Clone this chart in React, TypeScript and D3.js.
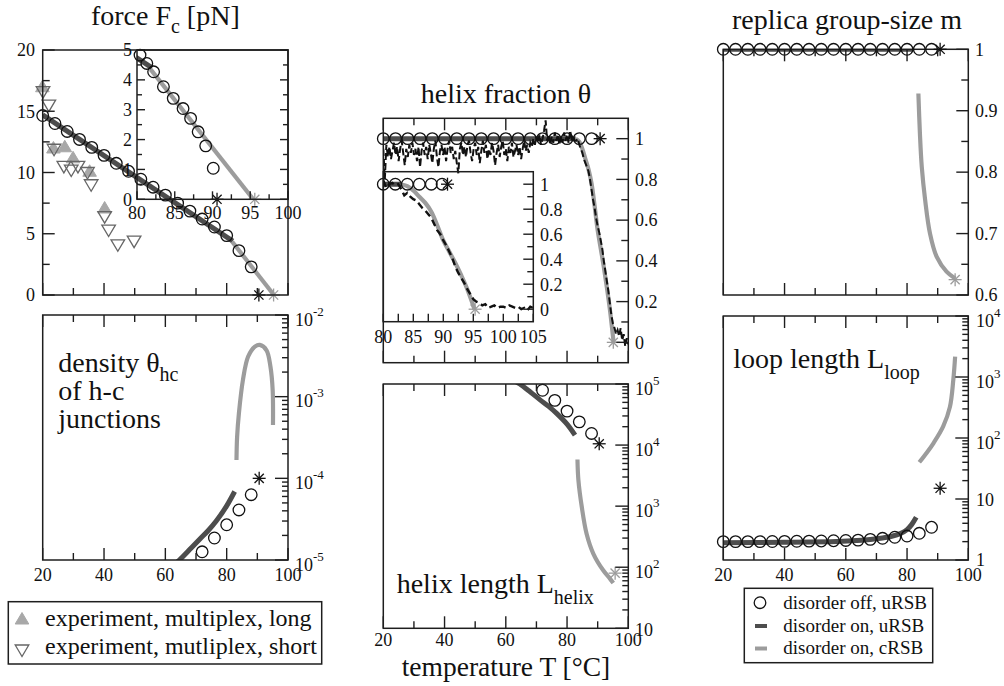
import React from "react";
import * as d3 from "d3";

// ---------------- data ----------------
// disorder off, uRSB (circles)
const offT = [20, 24, 28, 32, 36, 40, 44, 48, 52, 56, 60, 64, 68, 72, 76, 80, 84, 88];
const offForce = [14.65, 14.0, 13.35, 12.7, 12.05, 11.4, 10.75, 10.1, 9.45, 8.8, 8.15, 7.5, 6.85, 6.2, 5.55, 4.85, 3.62, 2.3];
const offForceInsetT = [80.4, 81.3, 82.2, 83.5, 84.8, 86.1, 87.1, 88.1, 89.1, 90.1];
const offForceInset = [4.83, 4.55, 4.27, 3.77, 3.38, 3.04, 2.71, 2.26, 1.79, 1.04];
const offTheta = [1, 1, 1, 1, 1, 1, 1, 1, 1, 1, 1, 1, 1, 1, 1, 1, 1, 1];
const offThetaInsetT = [80, 82, 84, 86, 88, 89.8];
const offThetaInset = [1, 1, 1, 1, 1, 1];
const offM = [1, 1, 1, 1, 1, 1, 1, 1, 1, 1, 1, 1, 1, 1, 1, 1, 1, 1];
const offLoop = [2.0, 2.0, 2.0, 2.0, 2.01, 2.02, 2.03, 2.04, 2.05, 2.07, 2.09, 2.12, 2.18, 2.27, 2.36, 2.47, 2.74, 3.44];
const offJunctT = [72, 76, 80, 84, 88];
const offDensity = [1.26e-5, 1.86e-5, 2.7e-5, 4.1e-5, 6.3e-5];
const offHelix = [7.9e4, 5.4e4, 3.6e4, 2.4e4, 1.55e4];

// disorder on, uRSB (dark line)
const onForceT = [20, 82];
const onForce = [14.7, 4.4];
const onThetaT = [20, 82.8];
const onTheta = [1, 1];
const onMT = [20, 82];
const onM = [1, 1];
const onJunctT = [63.5, 64.6, 68, 71.2, 74, 76.6, 80, 82.6];
const onDensity = [0.92e-5, 1e-5, 1.35e-5, 1.8e-5, 2.3e-5, 3.0e-5, 4.6e-5, 6.9e-5];
const onHelix = [1.08e5, 1e5, 7.4e4, 5.5e4, 4.3e4, 3.3e4, 2.2e4, 1.45e4];
const onLoopT = [20, 40, 55, 62, 68, 72, 75, 78, 80, 81.5, 83];
const onLoop = [1.92, 1.95, 2.0, 2.06, 2.17, 2.3, 2.45, 2.75, 3.15, 3.8, 5.0];

// disorder on, cRSB (gray line)
const cForceT = [81.8, 95.4];
const cForce = [4.35, 0];
const cThetaT = [82.8, 84, 85, 86, 87, 88, 89, 90, 91, 92, 93, 94, 95.2];
const cTheta = [1.0, 0.985, 0.95, 0.9, 0.85, 0.78, 0.67, 0.55, 0.46, 0.37, 0.27, 0.16, 0.0];
const cDensityT = [83.2, 83.4, 84.0, 85.3, 87.0, 89.2, 90.8, 93.0, 94.3, 95.0, 95.1];
const cDensity = [1.68e-4, 3.2e-4, 6.3e-4, 1.6e-3, 3.1e-3, 4.1e-3, 4.3e-3, 3.7e-3, 2.3e-3, 1.2e-3, 4.5e-4];
const cHelixT = [83.4, 83.7, 84.8, 86.4, 88.6, 91.8, 94.0, 95.1];
const cHelix = [5.8e3, 2.7e3, 9.8e2, 3.5e2, 1.66e2, 89, 65, 55];
const cMT = [83.7, 84.2, 84.8, 85.9, 87.5, 89.7, 92.9, 95.7];
const cM = [0.928, 0.863, 0.809, 0.755, 0.7, 0.662, 0.638, 0.627];
const cLoopT = [84.0, 86.5, 88.6, 91.8, 94.0, 95.1, 95.7];
const cLoop = [40, 58, 82, 155, 324, 890, 2150];

// experiments (force)
const expLongT = [19.9, 23.5, 27.2, 29.9, 35.3, 40.2];
const expLongF = [17.0, 12.0, 12.1, 11.2, 10.1, 7.1];
const expShortT = [20.1, 22.0, 23.7, 26.9, 29.3, 31.5, 34.6, 35.8, 40.2, 41.5, 44.5, 49.8];
const expShortF = [16.6, 15.5, 11.9, 10.5, 10.2, 10.5, 10.0, 9.0, 6.4, 5.3, 4.1, 4.4];

// simulation helix fraction (dashed black), sampled every 0.5 degree
const simStartT = 20;
const simStepT = 0.5;
const simTheta = [
  0.95, 0.80, 0.97, 0.91, 0.96, 0.90, 0.94, 0.98, 0.92, 0.96, 0.89, 0.95, 0.99, 0.93, 0.87, 0.95, 0.91, 0.97, 0.93, 0.98,
  0.92, 0.95, 0.89, 0.96, 0.86, 0.94, 0.98, 0.92, 0.96, 0.90, 0.97, 0.93, 0.88, 0.95, 0.99, 0.91, 0.86, 0.94, 0.97, 0.92,
  0.96, 0.89, 0.95, 0.99, 0.93, 0.96, 0.90, 0.94, 0.88, 0.83, 0.95, 0.98, 0.92, 0.96, 0.91, 0.97, 0.99, 0.93, 0.89, 0.95,
  0.98, 0.92, 0.96, 0.88, 0.94, 0.99, 0.93, 0.97, 0.90, 0.95, 0.92, 0.98, 0.94, 0.87, 0.93, 0.97, 0.91, 0.96, 0.99, 0.92,
  0.95, 0.89, 0.96, 0.93, 0.98, 0.91, 0.94, 0.97, 0.92, 0.96, 0.90, 0.95, 0.99, 0.94, 0.97, 0.93, 0.98, 0.96, 1.00, 0.97,
  1.01, 0.98, 1.02, 0.97, 1.00, 1.04, 1.09, 0.99, 1.02, 0.97, 1.01, 0.98, 1.03, 0.99, 1.02, 0.97, 1.01, 0.98, 1.03, 0.99,
  1.02, 0.98, 1.04, 1.00, 1.01, 0.99,
  0.99, 1.0, 0.97, 0.95, 0.93, 0.9, 0.88, 0.86, 0.84, 0.8, 0.75, 0.7, 0.66, 0.61, 0.57, 0.54, 0.5, 0.46, 0.4, 0.35,
  0.3, 0.25, 0.19, 0.13, 0.09, 0.07, 0.04, 0.06, 0.03, 0.07, 0.01, 0.04, -0.02, 0.02, -0.01,
];
const simInsetStartT = 80;
const simInsetStepT = 0.5;
const simThetaInset = [
  1.03, 0.97, 1.0, 1.01, 0.99, 1.0, 0.96, 0.91, 0.93, 0.9, 0.88, 0.87, 0.84, 0.81, 0.79, 0.76, 0.73, 0.68, 0.63, 0.6,
  0.55, 0.51, 0.46, 0.41, 0.34, 0.29, 0.25, 0.21, 0.16, 0.12, 0.08, 0.06, 0.05, 0.03, 0.04, 0.01, 0.02, 0.03, 0.01, 0.02,
  0.02, 0.01, 0.03, 0.02, 0.01, 0.02, 0.0, 0.01, -0.01, 0.02, 0.01,
];

// transition points (stars): [T, value]
const starForceOff = [90.5, 0];
const starForceOn = [95.3, 0];
const starForceInsetOff = [90.6, 0];
const starForceInsetOn = [95.6, 0];
const starDensityOff = [90.6, 1e-4];
const starThetaOff = [90.8, 1];
const starThetaOn = [95.1, 0];
const starThetaInsetOff = [90.7, 1];
const starThetaInsetOn = [95.3, 0];
const starHelixOff = [90.5, 1.05e4];
const starHelixOn = [95.7, 80];
const starMOff = [90.8, 1];
const starMOn = [95.7, 0.625];
const starLoopOff = [90.8, 15];

// ticks
const tMajor = [20, 40, 60, 80, 100];
const tMinor = [30, 50, 70, 90];
const forceMajor = [0, 5, 10, 15, 20];
const forceMinor = [2.5, 7.5, 12.5, 17.5];
const forceInsetMajor = [0, 1, 2, 3, 4, 5];
const forceInsetMinor = [0.5, 1.5, 2.5, 3.5, 4.5];
const forceInsetXMajor = [80, 85, 90, 95, 100];
const forceInsetXMinor = [82.5, 87.5, 92.5, 97.5];
const thetaMajor = [0, 0.2, 0.4, 0.6, 0.8, 1];
const thetaMinor = [0.1, 0.3, 0.5, 0.7, 0.9];
const thetaInsetXMajor = [80, 85, 90, 95, 100, 105];
const thetaInsetXMinor = [82.5, 87.5, 92.5, 97.5, 102.5];
const mMajor = [0.6, 0.7, 0.8, 0.9, 1];
const mMinor = [0.65, 0.75, 0.85, 0.95];
const densityDecades = [1e-5, 1e-4, 1e-3, 1e-2];
const helixDecades = [10, 1e2, 1e3, 1e4, 1e5];
const loopDecades = [1, 10, 1e2, 1e3, 1e4];

// ---------------- layout ----------------
const FONT = "'Liberation Serif', 'Times New Roman', 'DejaVu Serif', serif";
const FRAME = "#1e1e1e";
const DARK = "#4d4d4d";
const GRAY = "#9c9c9c";
const MAJ = 12;
const MIN = 7;

type Box = { x: number; y: number; w: number; h: number };
const B_FORCE: Box = { x: 42.7, y: 50, w: 245.3, h: 245 };
const B_FINSET: Box = { x: 137, y: 50, w: 151, h: 149.3 };
const B_DENS: Box = { x: 42.7, y: 315, w: 245.3, h: 245 };
const B_THETA: Box = { x: 383.3, y: 118.3, w: 245, h: 244.4 };
const B_TINSET: Box = { x: 383.3, y: 171.7, w: 150, h: 150 };
const B_HELIX: Box = { x: 383.3, y: 384, w: 245, h: 244.3 };
const B_M: Box = { x: 723.3, y: 49.3, w: 245, h: 245.7 };
const B_LOOP: Box = { x: 723.3, y: 316, w: 245, h: 244 };

type Sc = (v: number) => number;
const linX = (b: Box, d: [number, number]) => d3.scaleLinear(d, [b.x, b.x + b.w]);
const linY = (b: Box, d: [number, number]) => d3.scaleLinear(d, [b.y + b.h, b.y]);
const logY = (b: Box, d: [number, number]) => d3.scaleLog(d, [b.y + b.h, b.y]);

const zip = (xs: number[], ys: number[]) => xs.map((x, i) => [x, ys[i]] as [number, number]);

function pathD(sx: Sc, sy: Sc, pts: [number, number][], curve: d3.CurveFactory = d3.curveLinear) {
  return (
    d3
      .line<[number, number]>()
      .x((d) => sx(d[0]))
      .y((d) => sy(d[1]))
      .curve(curve)(pts) || ""
  );
}

function frame(b: Box, key: string) {
  return <rect key={key} x={b.x} y={b.y} width={b.w} height={b.h} fill="none" stroke={FRAME} strokeWidth={1.5} />;
}

function xTicks(sx: Sc, b: Box, majors: number[], minors: number[], sides: string[], key: string, maj = MAJ, min = MIN) {
  const out: React.ReactElement[] = [];
  const groups: [number[], number][] = [
    [majors, maj],
    [minors, min],
  ];
  groups.forEach(([vals, len], gi) =>
    vals.forEach((v, i) =>
      sides.forEach((s) => {
        const x = sx(v);
        const y1 = s === "bottom" ? b.y + b.h : b.y;
        const y2 = s === "bottom" ? b.y + b.h - len : b.y + len;
        out.push(<line key={`${key}-${gi}-${i}-${s}`} x1={x} x2={x} y1={y1} y2={y2} stroke={FRAME} strokeWidth={1.4} />);
      })
    )
  );
  return out;
}

function yTicks(sy: Sc, b: Box, majors: number[], minors: number[], sides: string[], key: string, maj = MAJ, min = MIN) {
  const out: React.ReactElement[] = [];
  const groups: [number[], number][] = [
    [majors, maj],
    [minors, min],
  ];
  groups.forEach(([vals, len], gi) =>
    vals.forEach((v, i) =>
      sides.forEach((s) => {
        const y = sy(v);
        const x1 = s === "right" ? b.x + b.w : b.x;
        const x2 = s === "right" ? b.x + b.w - len : b.x + len;
        out.push(<line key={`${key}-${gi}-${i}-${s}`} x1={x1} x2={x2} y1={y} y2={y} stroke={FRAME} strokeWidth={1.4} />);
      })
    )
  );
  return out;
}

function logMinors(decades: number[]) {
  const out: number[] = [];
  for (let i = 0; i < decades.length - 1; i++) for (let k = 2; k <= 9; k++) out.push(decades[i] * k);
  return out;
}

function logLabels(sy: Sc, x: number, decades: number[], key: string) {
  return decades.map((v, i) => {
    const e = Math.round(Math.log10(v));
    const y = sy(v);
    if (e === 0)
      return (
        <text key={`${key}-${i}`} x={x} y={y} dy="0.35em" fontSize={18}>
          1
        </text>
      );
    if (e === 1)
      return (
        <text key={`${key}-${i}`} x={x} y={y + 1} dy="0.35em" fontSize={18}>
          10
        </text>
      );
    return (
      <text key={`${key}-${i}`} x={x} y={y} dy="0.6em" fontSize={18}>
        10
        <tspan fontSize={13} dy={-10}>
          {e < 0 ? `-${-e}` : String(e)}
        </tspan>
      </text>
    );
  });
}

function numLabels(sy: Sc, x: number, vals: number[], key: string, anchor: "start" | "end", size = 18) {
  return vals.map((v, i) => (
    <text key={`${key}-${i}`} x={x} y={sy(v)} dy="0.35em" fontSize={size} textAnchor={anchor}>
      {String(v)}
    </text>
  ));
}

function xLabels(sx: Sc, y: number, vals: number[], key: string, size = 18) {
  return vals.map((v, i) => (
    <text key={`${key}-${i}`} x={sx(v)} y={y} fontSize={size} textAnchor="middle">
      {String(v)}
    </text>
  ));
}

function circles(sx: Sc, sy: Sc, pts: [number, number][], key: string) {
  return pts.map((p, i) => (
    <circle key={`${key}-${i}`} cx={sx(p[0])} cy={sy(p[1])} r={5.8} fill="none" stroke="#111" strokeWidth={1.3} />
  ));
}

function star(sx: Sc, sy: Sc, p: number[], color: string, dot: boolean, key: string) {
  const cx = sx(p[0]);
  const cy = sy(p[1]);
  const r = 6.5;
  const angles = [0, 45, 90, 135];
  return (
    <g key={key}>
      {angles.map((a) => {
        const dx = r * Math.cos((a * Math.PI) / 180);
        const dy = r * Math.sin((a * Math.PI) / 180);
        return <line key={a} x1={cx - dx} x2={cx + dx} y1={cy - dy} y2={cy + dy} stroke={color} strokeWidth={1.3} />;
      })}
      {dot && <circle cx={cx} cy={cy} r={1.6} fill={color} />}
    </g>
  );
}

function triUp(x: number, y: number, key: string) {
  return <polygon key={key} points={`${x},${y - 6.5} ${x + 6.8},${y + 5} ${x - 6.8},${y + 5}`} fill="#a8a8a8" stroke="#a8a8a8" strokeWidth={1} />;
}
function triDown(x: number, y: number, key: string) {
  return <polygon key={key} points={`${x - 6.8},${y - 5} ${x + 6.8},${y - 5} ${x},${y + 6.5}`} fill="none" stroke="#666" strokeWidth={1.3} />;
}

function clip(id: string, b: Box) {
  return (
    <clipPath id={id} key={id}>
      <rect x={b.x} y={b.y} width={b.w} height={b.h} />
    </clipPath>
  );
}

export default function App() {
  // scales
  const sxF = linX(B_FORCE, [20, 100]);
  const syF = linY(B_FORCE, [0, 20]);
  const sxFI = linX(B_FINSET, [80, 100]);
  const syFI = linY(B_FINSET, [0, 5]);
  const sxD = linX(B_DENS, [20, 100]);
  const syD = logY(B_DENS, [1e-5, 1e-2]);
  const sxT = linX(B_THETA, [20, 100]);
  const syT = linY(B_THETA, [-0.1, 1.1]);
  const sxTI = linX(B_TINSET, [80, 105]);
  const syTI = linY(B_TINSET, [-0.1, 1.1]);
  const sxH = linX(B_HELIX, [20, 100]);
  const syH = logY(B_HELIX, [10, 1e5]);
  const sxM = linX(B_M, [20, 100]);
  const syM = linY(B_M, [0.6, 1]);
  const sxL = linX(B_LOOP, [20, 100]);
  const syL = logY(B_LOOP, [1, 1e4]);

  const simPts = zip(simTheta.map((_, i) => simStartT + i * simStepT), simTheta);
  const simInsetPts = zip(simThetaInset.map((_, i) => simInsetStartT + i * simInsetStepT), simThetaInset);
  const cr = d3.curveCatmullRom.alpha(0.5);

  const darkStyle = { fill: "none", stroke: DARK, strokeWidth: 5 };
  const grayStyle = { fill: "none", stroke: GRAY, strokeWidth: 4.2 };

  return (
    <svg
      width={1004}
      height={686}
      style={{ position: "absolute", left: 0, top: 0, background: "#fff" }}
      fontFamily={FONT}
      fill="#111"
    >
      <defs>
        {clip("c-force", B_FORCE)}
        {clip("c-finset", B_FINSET)}
        {clip("c-dens", B_DENS)}
        {clip("c-theta", B_THETA)}
        {clip("c-tinset", B_TINSET)}
        {clip("c-helix", B_HELIX)}
        {clip("c-m", B_M)}
        {clip("c-loop", B_LOOP)}
      </defs>
      <rect x={0} y={0} width={1004} height={686} fill="#fff" />

      {/* ---------- force panel ---------- */}
      <text x={165.3} y={25} textAnchor="middle" fontSize={28}>
        force F<tspan fontSize={20} dy={8}>c</tspan>
        <tspan dy={-8}> [pN]</tspan>
      </text>
      <g clipPath="url(#c-force)">
        <path d={pathD(sxF, syF, zip(onForceT, onForce))} style={darkStyle} />
        <path d={pathD(sxF, syF, zip(cForceT, cForce))} style={grayStyle} />
      </g>
      {zip(expLongT, expLongF).map((p, i) => triUp(sxF(p[0]), syF(p[1]), `el${i}`))}
      {zip(expShortT, expShortF).map((p, i) => triDown(sxF(p[0]), syF(p[1]), `es${i}`))}
      {circles(sxF, syF, zip(offT, offForce), "fc")}
      {star(sxF, syF, starForceOff, "#111", true, "fs1")}
      {star(sxF, syF, starForceOn, GRAY, false, "fs2")}
      {frame(B_FORCE, "ff")}
      {xTicks(sxF, B_FORCE, tMajor, tMinor, ["bottom"], "fxt")}
      {yTicks(syF, B_FORCE, forceMajor, forceMinor, ["left"], "fyt")}
      {numLabels(syF, 35, forceMajor, "fyl", "end")}

      {/* force inset */}
      <g clipPath="url(#c-finset)">
        <path d={pathD(sxFI, syFI, zip(onForceT, onForce))} style={darkStyle} />
        <path d={pathD(sxFI, syFI, zip(cForceT, cForce))} style={grayStyle} />
      </g>
      {circles(sxFI, syFI, zip(offForceInsetT, offForceInset), "fic")}
      {star(sxFI, syFI, starForceInsetOff, "#111", true, "fis1")}
      {star(sxFI, syFI, starForceInsetOn, GRAY, false, "fis2")}
      {frame(B_FINSET, "fif")}
      {yTicks(syFI, B_FINSET, forceInsetMajor, forceInsetMinor, ["left", "right"], "fiyt", 8, 5)}
      {xTicks(sxFI, B_FINSET, forceInsetXMajor, forceInsetXMinor, ["bottom"], "fixt", 8, 5)}
      {numLabels(syFI, 132, forceInsetMajor, "fiyl", "end")}
      {xLabels(sxFI, 219, forceInsetXMajor, "fixl")}

      {/* ---------- density panel ---------- */}
      <g clipPath="url(#c-dens)">
        <path d={pathD(sxD, syD, zip(onJunctT, onDensity), cr)} style={darkStyle} />
        <path d={pathD(sxD, syD, zip(cDensityT, cDensity), cr)} style={grayStyle} />
      </g>
      {circles(sxD, syD, zip(offJunctT, offDensity), "dc")}
      {star(sxD, syD, starDensityOff, "#111", true, "ds1")}
      {frame(B_DENS, "df")}
      {xTicks(sxD, B_DENS, tMajor, tMinor, ["top", "bottom"], "dxt")}
      {yTicks(syD, B_DENS, densityDecades, logMinors(densityDecades), ["right"], "dyt", 13, 6)}
      {logLabels(syD, 295, densityDecades, "dyl")}
      {xLabels(sxD, 581, tMajor, "dxl")}
      <text x={58.3} y={371.7} fontSize={28}>
        density θ<tspan fontSize={20} dy={9}>hc</tspan>
      </text>
      <text x={58.3} y={400} fontSize={28}>
        of h-c
      </text>
      <text x={58.3} y={428.3} fontSize={28}>
        junctions
      </text>

      {/* legend left */}
      <rect x={8.3} y={601.7} width={313.4} height={62.3} fill="#fff" stroke={FRAME} strokeWidth={1.5} />
      {triUp(22, 619, "lg1")}
      {triDown(22, 650, "lg2")}
      <text x={45} y={625.5} fontSize={24}>
        experiment, multiplex, long
      </text>
      <text x={45} y={654} fontSize={24}>
        experiment, mutliplex, short
      </text>

      {/* ---------- helix fraction panel ---------- */}
      <text x={506} y={103} textAnchor="middle" fontSize={28}>
        helix fraction θ
      </text>
      <g clipPath="url(#c-theta)">
        <path d={pathD(sxT, syT, zip(onThetaT, onTheta))} style={darkStyle} />
        <path d={pathD(sxT, syT, zip(cThetaT, cTheta), cr)} style={grayStyle} />
        <path d={pathD(sxT, syT, simPts)} fill="none" stroke="#111" strokeWidth={2} strokeDasharray="7,3" />
      </g>
      {circles(sxT, syT, zip(offT, offTheta), "tc")}
      {star(sxT, syT, starThetaOff, "#111", true, "ts1")}
      {star(sxT, syT, starThetaOn, GRAY, false, "ts2")}
      {frame(B_THETA, "tf")}
      {xTicks(sxT, B_THETA, tMajor, tMinor, ["top", "bottom"], "txt")}
      {yTicks(syT, B_THETA, thetaMajor, thetaMinor, ["right"], "tyt")}
      {numLabels(syT, 635, thetaMajor, "tyl", "start")}

      {/* theta inset */}
      <g clipPath="url(#c-tinset)">
        <path d={pathD(sxTI, syTI, zip(onThetaT, onTheta))} style={darkStyle} />
        <path d={pathD(sxTI, syTI, zip(cThetaT, cTheta), cr)} style={grayStyle} />
        <path d={pathD(sxTI, syTI, simInsetPts)} fill="none" stroke="#111" strokeWidth={2.4} strokeDasharray="7,4" />
      </g>
      {circles(sxTI, syTI, zip(offThetaInsetT, offThetaInset), "tic")}
      {star(sxTI, syTI, starThetaInsetOff, "#111", true, "tis1")}
      {star(sxTI, syTI, starThetaInsetOn, GRAY, false, "tis2")}
      {frame(B_TINSET, "tif")}
      {yTicks(syTI, B_TINSET, thetaMajor, thetaMinor, ["right"], "tiyt", 10, 6)}
      {xTicks(sxTI, B_TINSET, thetaInsetXMajor, thetaInsetXMinor, ["bottom"], "tixt", 8, 8)}
      {numLabels(syTI, 540, thetaMajor, "tiyl", "start")}
      {xLabels(sxTI, 343, thetaInsetXMajor, "tixl")}

      {/* ---------- helix length panel ---------- */}
      <g clipPath="url(#c-helix)">
        <path d={pathD(sxH, syH, zip(onJunctT, onHelix), cr)} style={darkStyle} />
        <path d={pathD(sxH, syH, zip(cHelixT, cHelix), cr)} style={grayStyle} />
      </g>
      {circles(sxH, syH, zip(offJunctT, offHelix), "hc")}
      {star(sxH, syH, starHelixOff, "#111", true, "hs1")}
      {star(sxH, syH, starHelixOn, GRAY, false, "hs2")}
      {frame(B_HELIX, "hf")}
      {xTicks(sxH, B_HELIX, tMajor, tMinor, ["top", "bottom"], "hxt")}
      {yTicks(syH, B_HELIX, helixDecades, logMinors(helixDecades), ["right"], "hyt", 13, 6)}
      {logLabels(syH, 635, helixDecades, "hyl")}
      {xLabels(sxH, 646, tMajor, "hxl")}
      <text x={396.7} y={593.3} fontSize={28}>
        helix length L<tspan fontSize={20} dy={11}>helix</tspan>
      </text>
      <text x={506} y={675.5} textAnchor="middle" fontSize={27.5}>
        temperature T [°C]
      </text>

      {/* ---------- replica group size ---------- */}
      <text x={847} y={29} textAnchor="middle" fontSize={28}>
        replica group-size m
      </text>
      <g clipPath="url(#c-m)">
        <path d={pathD(sxM, syM, zip(onMT, onM))} style={darkStyle} />
        <path d={pathD(sxM, syM, zip(cMT, cM), cr)} style={grayStyle} />
      </g>
      {frame(B_M, "mf")}
      {circles(sxM, syM, zip(offT, offM), "mc")}
      {star(sxM, syM, starMOff, "#111", true, "ms1")}
      {star(sxM, syM, starMOn, GRAY, false, "ms2")}
      {xTicks(sxM, B_M, tMajor, tMinor, ["top", "bottom"], "mxt")}
      {yTicks(syM, B_M, mMajor, mMinor, ["right"], "myt")}
      {numLabels(syM, 975, mMajor, "myl", "start")}

      {/* ---------- loop length ---------- */}
      <g clipPath="url(#c-loop)">
        <path d={pathD(sxL, syL, zip(onLoopT, onLoop), cr)} style={darkStyle} />
        <path d={pathD(sxL, syL, zip(cLoopT, cLoop), cr)} style={grayStyle} />
      </g>
      {circles(sxL, syL, zip(offT, offLoop), "lc")}
      {star(sxL, syL, starLoopOff, "#111", true, "ls1")}
      {frame(B_LOOP, "lf")}
      {xTicks(sxL, B_LOOP, tMajor, tMinor, ["top", "bottom"], "lxt")}
      {yTicks(syL, B_LOOP, loopDecades, logMinors(loopDecades), ["right"], "lyt", 13, 6)}
      {logLabels(syL, 976, loopDecades, "lyl")}
      {xLabels(sxL, 581, tMajor, "lxl")}
      <text x={733.3} y={368.3} fontSize={28}>
        loop length L<tspan fontSize={20} dy={11}>loop</tspan>
      </text>

      {/* legend right */}
      <rect x={744.3} y={588.3} width={188.4} height={74.4} fill="#fff" stroke={FRAME} strokeWidth={1.5} />
      <circle cx={760} cy={602.7} r={5.8} fill="none" stroke="#111" strokeWidth={1.3} />
      <line x1={755} x2={767} y1={626} y2={626} stroke={DARK} strokeWidth={4} />
      <line x1={755} x2={767} y1={648.5} y2={648.5} stroke={GRAY} strokeWidth={4} />
      <text x={783.3} y={608.5} fontSize={19}>
        disorder off, uRSB
      </text>
      <text x={783.3} y={631.5} fontSize={19}>
        disorder on, uRSB
      </text>
      <text x={783.3} y={654} fontSize={19}>
        disorder on, cRSB
      </text>
    </svg>
  );
}
